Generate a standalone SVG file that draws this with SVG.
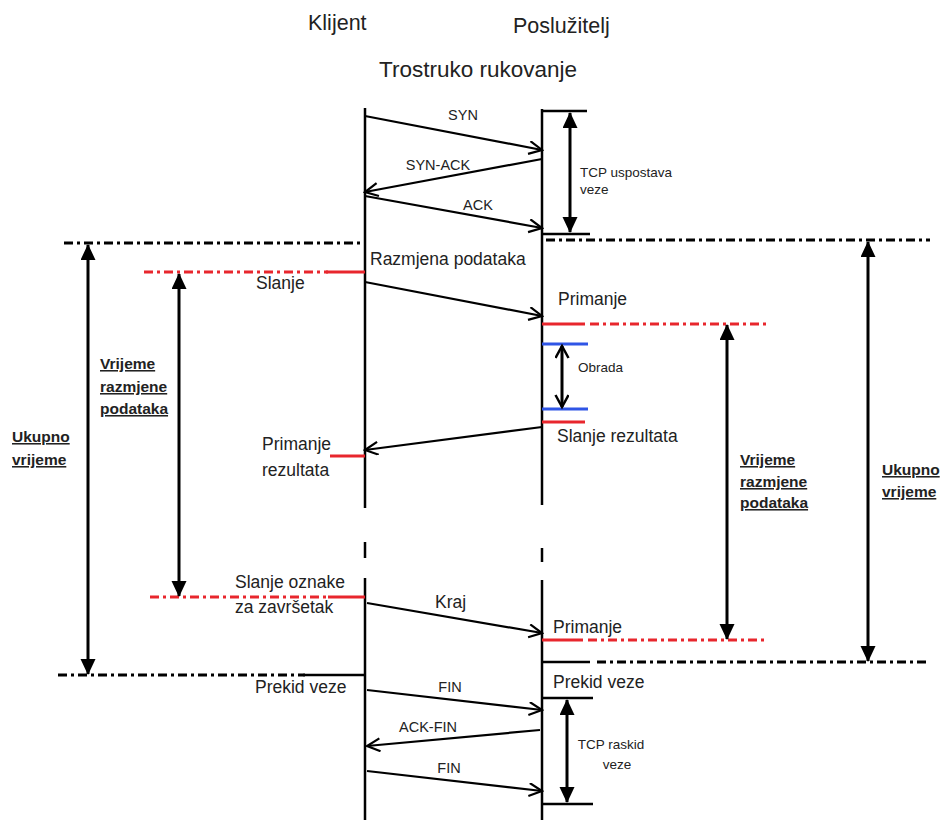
<svg xmlns="http://www.w3.org/2000/svg" width="944" height="820" viewBox="0 0 944 820">
<style>
text{font-family:"Liberation Sans",Arial,sans-serif;fill:#222}
.t{font-size:21.5px}
.m{font-size:17.5px}
.s{font-size:14.5px}
.xs{font-size:13.5px}
.b{font-size:15.5px;font-weight:bold;text-decoration:underline}
.life{stroke:#000;stroke-width:2.5;fill:none}
.msg{stroke:#000;stroke-width:2.2;fill:none;marker-end:url(#open)}
.bar{stroke:#000;stroke-width:2.5;fill:none}
.dd{stroke:#000;stroke-width:3;fill:none;stroke-dasharray:9,4,3,4}
.rdd{stroke:#e8262d;stroke-width:3;fill:none;stroke-dasharray:9,4,3,4}
.red{stroke:#e8262d;stroke-width:3;fill:none}
.blue{stroke:#2f55e6;stroke-width:3;fill:none}
.dim{stroke:#000;stroke-width:3;fill:none;marker-start:url(#tri);marker-end:url(#tri)}
.dimo{stroke:#000;stroke-width:3;fill:none;marker-start:url(#open2);marker-end:url(#open2)}
</style>
<defs>
<marker id="open" markerWidth="16" markerHeight="16" refX="14" refY="7" orient="auto" markerUnits="userSpaceOnUse">
<path d="M1,0.5 L14,7 L1,13.5" stroke="#000" stroke-width="2.2" fill="none"/>
</marker>
<marker id="open2" markerWidth="16" markerHeight="16" refX="13" refY="7" orient="auto-start-reverse" markerUnits="userSpaceOnUse">
<path d="M1,0.5 L13,7 L1,13.5" stroke="#000" stroke-width="2.5" fill="none"/>
</marker>
<marker id="tri" markerWidth="18" markerHeight="16" refX="15" refY="7.5" orient="auto-start-reverse" markerUnits="userSpaceOnUse">
<path d="M0,0 L16,7.5 L0,15 Z" fill="#000"/>
</marker>
</defs>
<rect width="944" height="820" fill="#fff"/>

<g id="titles">
<text class="t" x="308" y="30">Klijent</text>
<text class="t" x="513" y="33">Poslužitelj</text>
<text class="t" x="478" y="77" text-anchor="middle" style="font-size:22.5px">Trostruko rukovanje</text>
</g>

<g id="client">
<path class="life" d="M365,108 V508 M365,542 V558 M365,578 V820"/>
</g>
<g id="server">
<path class="life" d="M542,109 V505 M542,548 V562 M542,580 V820"/>
</g>

<g id="phase-lines">
<path class="dd" d="M64,243 H360"/>
<path class="dd" d="M546,240 H930"/>
<path class="rdd" d="M144,272 H328"/>
<path class="red" d="M326,272 H365"/>
<path class="red" d="M542,324 H585"/>
<path class="rdd" d="M590,324 H770"/>
<path class="blue" d="M542,344 H588"/>
<path class="blue" d="M542,409 H588"/>
<path class="red" d="M542,422 H585"/>
<path class="red" d="M330,456 H365"/>
<path class="rdd" d="M150,597 H330"/>
<path class="red" d="M328,597 H365"/>
<path class="red" d="M542,640 H583"/>
<path class="rdd" d="M588,640 H767"/>
<path class="dd" d="M58,675 H305"/>
<path class="bar" d="M303,675 H365"/>
<path class="bar" d="M542,662 H590"/>
<path class="dd" d="M597,662 H930"/>
</g>

<g id="brackets">
<path class="bar" d="M542,111 H587"/>
<path class="bar" d="M542,234 H590"/>
<path class="bar" d="M542,698 H593"/>
<path class="bar" d="M542,804 H593"/>
</g>

<g id="connectors">
<path class="msg" d="M365,116 L542,150"/>
<path class="msg" d="M542,159 L365,192"/>
<path class="msg" d="M365,196 L542,228"/>
<path class="msg" d="M365,282 L542,316"/>
<path class="msg" d="M542,427 L365,450"/>
<path class="msg" d="M367,603 L542,633"/>
<path class="msg" d="M367,690 L542,710"/>
<path class="msg" d="M540,730 L367,746"/>
<path class="msg" d="M367,771 L542,791"/>
<path class="dim" d="M570,113 V232"/>
<path class="dimo" d="M562,346 V407"/>
<path class="dim" d="M567,700 V802"/>
<path class="dim" d="M88,245 V674"/>
<path class="dim" d="M179,274 V596"/>
<path class="dim" d="M727,325 V639"/>
<path class="dim" d="M868,242 V661"/>
</g>

<g id="labels">
<text class="s" x="463" y="120" text-anchor="middle">SYN</text>
<text class="s" x="438" y="170" text-anchor="middle">SYN-ACK</text>
<text class="s" x="478" y="210" text-anchor="middle">ACK</text>
<text class="xs" x="580" y="177">TCP uspostava</text>
<text class="xs" x="580" y="194">veze</text>
<text class="m" x="370" y="265">Razmjena podataka</text>
<text class="m" x="256" y="289">Slanje</text>
<text class="m" x="558" y="305">Primanje</text>
<text class="xs" x="578" y="372">Obrada</text>
<text class="m" x="557" y="442">Slanje rezultata</text>
<text class="m" x="262" y="450">Primanje</text>
<text class="m" x="262" y="476">rezultata</text>
<text class="m" x="235" y="588">Slanje oznake</text>
<text class="m" x="235" y="613">za završetak</text>
<text class="m" x="435" y="608">Kraj</text>
<text class="m" x="553" y="633">Primanje</text>
<text class="m" x="255" y="693">Prekid veze</text>
<text class="m" x="553" y="688">Prekid veze</text>
<text class="s" x="450" y="692" text-anchor="middle">FIN</text>
<text class="s" x="428" y="732" text-anchor="middle">ACK-FIN</text>
<text class="s" x="449" y="773" text-anchor="middle">FIN</text>
<text class="xs" x="611" y="749" text-anchor="middle">TCP raskid</text>
<text class="xs" x="617" y="769" text-anchor="middle">veze</text>
</g>

<g id="time-labels">
<text class="b" x="100" y="369">Vrijeme</text>
<text class="b" x="100" y="392">razmjene</text>
<text class="b" x="100" y="414">podataka</text>
<text class="b" x="12" y="442">Ukupno</text>
<text class="b" x="12" y="465">vrijeme</text>
<text class="b" x="740" y="465">Vrijeme</text>
<text class="b" x="740" y="487">razmjene</text>
<text class="b" x="740" y="508">podataka</text>
<text class="b" x="882" y="475">Ukupno</text>
<text class="b" x="882" y="497">vrijeme</text>
</g>
</svg>
